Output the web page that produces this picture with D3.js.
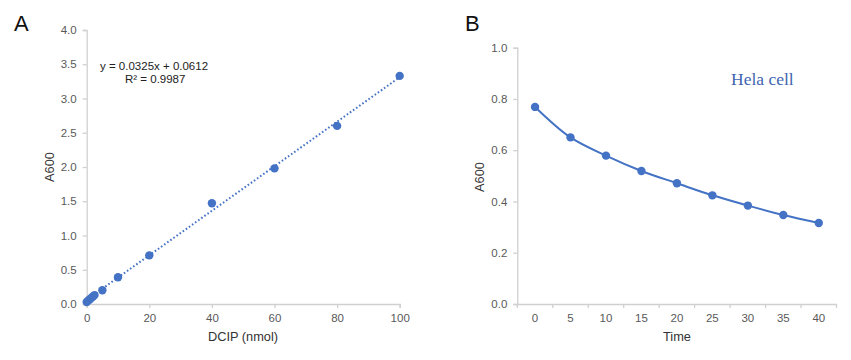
<!DOCTYPE html>
<html><head><meta charset="utf-8">
<script src="https://cdn.jsdelivr.net/npm/d3@7"></script>
<style>body{margin:0;background:#fff;}svg{display:block;font-family:"Liberation Sans",Arial,sans-serif;}</style>
</head><body>
<svg id="c" width="851" height="360"></svg>
<script>
// Panel A data
const dcip = [0, 0.5, 1, 1.5, 2, 2.5, 5, 10, 20, 40, 60, 80, 100];
const a600A = [0.03, 0.05, 0.07, 0.09, 0.11, 0.13, 0.20, 0.39, 0.71, 1.47, 1.98, 2.60, 3.33];
const slope = 0.0325, intercept = 0.0612;
const xTicksA = [0, 20, 40, 60, 80, 100];
const yTicksA = [0, 0.5, 1, 1.5, 2, 2.5, 3, 3.5, 4];
// Panel B data
const timeCats = ["0", "5", "10", "15", "20", "25", "30", "35", "40"];
const a600B = [0.769, 0.650, 0.579, 0.519, 0.471, 0.424, 0.384, 0.347, 0.316];
const yTicksB = [0, 0.2, 0.4, 0.6, 0.8, 1.0];

const svg = d3.select("#c");
const blue = "#4472C4", axisCol = "#d0d0d0", txt = "#595959";

function styleAxis(g) {
  g.selectAll("path.domain").attr("stroke", axisCol).attr("stroke-width", 1.3);
  g.selectAll(".tick line").attr("stroke", axisCol).attr("stroke-width", 1.3);
  g.selectAll(".tick text").attr("fill", txt).attr("font-size", "11.5px").attr("font-family", "Liberation Sans, Arial, sans-serif");
}

// ---------- Panel A ----------
const xA = d3.scaleLinear().domain([0, 100]).range([86.7, 399.7]);
const yA = d3.scaleLinear().domain([0, 4]).range([304, 30]);

const gyA = svg.append("g").attr("transform", `translate(${xA(0)},0)`)
  .call(d3.axisLeft(yA).tickValues(yTicksA).tickFormat(d3.format(".1f")).tickSizeOuter(0).tickSize(4).tickPadding(6));
styleAxis(gyA);
const gxA = svg.append("g").attr("transform", `translate(0,${yA(0)})`)
  .call(d3.axisBottom(xA).tickValues(xTicksA).tickFormat(d3.format("d")).tickSizeOuter(0).tickSize(4).tickPadding(6));
styleAxis(gxA);

svg.append("line")
  .attr("x1", xA(0)).attr("y1", yA(intercept))
  .attr("x2", xA(100)).attr("y2", yA(slope * 100 + intercept))
  .attr("stroke", blue).attr("stroke-width", 2).attr("stroke-dasharray", "1.6,2.2");

svg.append("g").selectAll("circle").data(dcip).join("circle")
  .attr("cx", d => xA(d)).attr("cy", (d, i) => yA(a600A[i])).attr("r", 4.2).attr("fill", blue);

svg.append("text").attr("x", 100).attr("y", 70).attr("font-size", "11.5px").attr("fill", "#222")
  .text("y = 0.0325x + 0.0612");
svg.append("text").attr("x", 125).attr("y", 83).attr("font-size", "11.5px").attr("fill", "#222")
  .text("R² = 0.9987");

svg.append("text").attr("x", 243).attr("y", 341).attr("text-anchor", "middle")
  .attr("font-size", "12.8px").attr("fill", "#333").text("DCIP (nmol)");
svg.append("text").attr("transform", "translate(54,167) rotate(-90)").attr("text-anchor", "middle")
  .attr("font-size", "12.8px").attr("fill", "#333").text("A600");
svg.append("text").attr("x", 14).attr("y", 31).attr("font-size", "22px").attr("fill", "#111").text("A");

// ---------- Panel B ----------
const xB = d3.scaleBand().domain(timeCats).range([517.3, 836.5]);
const yB = d3.scaleLinear().domain([0, 1]).range([304, 47.7]);

const gyB = svg.append("g").attr("transform", `translate(${517.3},0)`)
  .call(d3.axisLeft(yB).tickValues(yTicksB).tickFormat(d3.format(".1f")).tickSizeOuter(0).tickSize(4).tickPadding(6));
styleAxis(gyB);
const gxB = svg.append("g").attr("transform", `translate(0,${yB(0)})`)
  .call(d3.axisBottom(xB).tickSize(0).tickPadding(10).tickSizeOuter(0));
styleAxis(gxB);
// tick marks at band boundaries
const bounds = timeCats.map(c => xB(c)).concat([xB.range()[1]]);
gxB.selectAll("line.bt").data(bounds).join("line").attr("class", "bt")
  .attr("x1", d => d).attr("x2", d => d).attr("y1", 0).attr("y2", 4)
  .attr("stroke", axisCol).attr("stroke-width", 1.3);

const cx = c => xB(c) + xB.bandwidth() / 2;
svg.append("path").datum(timeCats)
  .attr("d", d3.line().x(c => cx(c)).y((c, i) => yB(a600B[i])).curve(d3.curveCatmullRom.alpha(0.5)))
  .attr("fill", "none").attr("stroke", blue).attr("stroke-width", 2);
svg.append("g").selectAll("circle").data(timeCats).join("circle")
  .attr("cx", c => cx(c)).attr("cy", (c, i) => yB(a600B[i])).attr("r", 4.2).attr("fill", blue);

svg.append("text").attr("x", 731).attr("y", 85).attr("font-family", "Liberation Serif, Times New Roman, serif")
  .attr("font-size", "17.5px").attr("fill", "#3f65b0").text("Hela cell");

svg.append("text").attr("x", 677).attr("y", 341).attr("text-anchor", "middle")
  .attr("font-size", "12.8px").attr("fill", "#333").text("Time");
svg.append("text").attr("transform", "translate(484,177) rotate(-90)").attr("text-anchor", "middle")
  .attr("font-size", "12.8px").attr("fill", "#333").text("A600");
svg.append("text").attr("x", 465).attr("y", 31).attr("font-size", "22px").attr("fill", "#111").text("B");
</script>
</body></html>
